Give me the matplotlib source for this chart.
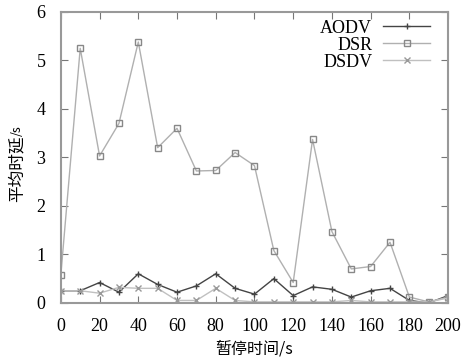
import matplotlib
matplotlib.use("Agg")
import matplotlib.pyplot as plt

x = [0, 10, 20, 30, 40, 50, 60, 70, 80, 90, 100, 110, 120, 130, 140, 150, 160, 170, 180, 190, 200]
aodv = [0.25, 0.25, 0.42, 0.22, 0.6, 0.38, 0.22, 0.35, 0.6, 0.3, 0.18, 0.5, 0.15, 0.33, 0.28, 0.12, 0.25, 0.3, 0.05, 0.0, 0.15]
dsr = [0.58, 5.25, 3.03, 3.7, 5.38, 3.2, 3.6, 2.72, 2.73, 3.1, 2.83, 1.08, 0.42, 3.37, 1.47, 0.7, 0.75, 1.25, 0.12, 0.02, 0.12]
dsdv = [0.25, 0.25, 0.2, 0.32, 0.3, 0.3, 0.05, 0.05, 0.3, 0.05, 0.02, 0.02, 0.02, 0.02, 0.02, 0.05, 0.02, 0.02, 0.02, 0.02, 0.1]
xticks = [0, 20, 40, 60, 80, 100, 120, 140, 160, 180, 200]
yticks = [0, 1, 2, 3, 4, 5, 6]

cjk = ["Noto Sans CJK SC", "DejaVu Sans"]
serif = "Liberation Serif"

fig = plt.figure(figsize=(4.61, 3.61), dpi=100)
ax = fig.add_axes([0.132, 0.161, 0.840, 0.806])

ax.plot(x, aodv, color="#444444", lw=1.0, marker="+", ms=4, mew=1.0, label="AODV")
ax.plot(x, dsr, color="#b0b0b0", lw=1.0, marker="s", ms=5, mfc="none", mec="#888888", mew=1.0, label="DSR")
ax.plot(x, dsdv, color="#c0c0c0", lw=1.0, marker="x", ms=5, mec="#999999", mew=1.0, label="DSDV")

ax.set_xlim(0, 200)
ax.set_ylim(0, 6)
ax.set_xticks(xticks)
ax.set_yticks(yticks)
ax.set_xticklabels([str(t) for t in xticks], fontfamily=serif, fontsize=13)
ax.set_yticklabels([str(t) for t in yticks], fontfamily=serif, fontsize=13)
ax.tick_params(axis="y", pad=11)
ax.tick_params(axis="x", pad=11)
ax.tick_params(direction="in", top=True, right=True, length=5, color="#777777")
for s in ax.spines.values():
    s.set_color("#999999")
    s.set_linewidth(1.5)

ax.set_xlabel("暂停时间/s", fontfamily=cjk, fontsize=11.5, labelpad=4)

fig.text(0.037, 1 - 169 / 361, "平均时延", rotation=90, fontfamily=cjk, fontsize=12,
         ha="center", va="center")
fig.text(0.037, 1 - 136 / 361, "/s", rotation=90, fontfamily=cjk, fontsize=9,
         ha="center", va="bottom")

ax.legend(loc="upper right", bbox_to_anchor=(1.0, 1.035), frameon=False, markerfirst=False,
          prop={"family": serif, "size": 13}, handlelength=2.6,
          labelspacing=0.0, borderaxespad=0.6, handletextpad=0.6)

fig.savefig("out.png", dpi=100)
